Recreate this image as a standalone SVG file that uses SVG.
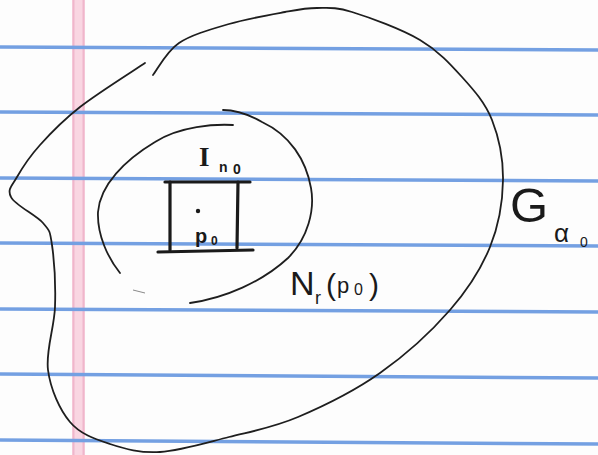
<svg xmlns="http://www.w3.org/2000/svg" width="598" height="455" viewBox="0 0 598 455">
<style>
.rule{stroke:#74a0e2;stroke-width:3.5;fill:none}
.ink{fill:none;stroke:#1e1e1e;stroke-width:1.8;stroke-linecap:round;stroke-linejoin:round}
.thick{fill:none;stroke:#1a1a1a;stroke-width:3.2;stroke-linecap:round}
.hand{font-family:"Liberation Sans","DejaVu Sans",sans-serif;fill:#1a1a1a}
.serif{font-family:"Liberation Serif","DejaVu Serif",serif;fill:#1a1a1a}
</style>
<rect width="598" height="455" fill="#fdfdfd"/>
<g id="paper">
  <rect x="72" y="0" width="13" height="455" fill="#f9d6e2"/>
  <line x1="73.5" y1="0" x2="73.5" y2="455" stroke="#f0b6cb" stroke-width="2"/>
  <line x1="83.5" y1="0" x2="83.5" y2="455" stroke="#f0b6cb" stroke-width="2"/>
  <line class="rule" x1="0" y1="47" x2="598" y2="50"/>
  <line class="rule" x1="0" y1="112" x2="598" y2="115"/>
  <line class="rule" x1="0" y1="178" x2="598" y2="181"/>
  <line class="rule" x1="0" y1="243" x2="598" y2="246"/>
  <line class="rule" x1="0" y1="309" x2="598" y2="312"/>
  <line class="rule" x1="0" y1="374" x2="598" y2="378"/>
  <line class="rule" x1="0" y1="440" x2="598" y2="444"/>
</g>
<g id="outer-region">
  <path class="ink" d="M153,75 C157.3,69.7 166.3,51.5 179,43 C191.7,34.5 211.3,29.2 229,24 C246.7,18.8 270.3,14.7 285,12 C299.7,9.3 305.8,8 317,8 C328.2,8 334.8,6.7 352,12 C369.2,17.3 401.7,29.2 420,40 C438.3,50.8 450,63.7 462,77 C474,90.3 485.2,102.8 492,120 C498.8,137.2 503.3,158.8 503,180 C502.7,201.2 498.8,225.3 490,247 C481.2,268.7 468.3,289 450,310 C431.7,331 405.3,355.2 380,373 C354.7,390.8 323.2,406.3 298,417 C272.8,427.7 252,431.2 229,437 C206,442.8 179.8,450.8 160,452 C140.2,453.2 125,449 110,444 C95,439 80.3,434.3 70,422 C59.7,409.7 50.5,389.2 48,370 C45.5,350.8 54.3,327.8 55,307 C55.7,286.2 54,259 52,245 C50,231 50,231 43,223 C36,215 14.3,204.7 11,197 C7,189.3 12,185.7 17,177 C22,168.3 29.5,156.7 40,145 C50.5,133.3 62.5,120.7 80,107 C97.5,93.3 134.2,70.3 145,63"/>
</g>
<g id="inner-neighborhood">
  <path class="ink" d="M233,125 C215,124 180,126 155,142 C125,160 100,185 98,212 C97,235 108,258 120,273"/>
  <path class="ink" d="M190,303 C225,298 262,282 288,258 C308,238 315,210 311,188 C306,160 290,135 262,122 C248,114 235,110 223,110"/>
  <path d="M133,290 L145,293" stroke="#8a8a8a" stroke-width="1" fill="none"/>
</g>
<g id="square-I">
  <path class="thick" d="M165,182 L250,182"/>
  <path class="thick" d="M170,182 L170,250"/>
  <path class="thick" d="M238,182 L237,248"/>
  <path class="thick" d="M158,252 L253,250"/>
  <circle cx="198" cy="211" r="2.2" fill="#1a1a1a"/>
</g>
<g id="labels">
  <text class="serif" x="199" y="166" font-size="27" font-weight="bold">I</text>
  <text class="hand" x="219" y="172" font-size="14" font-weight="bold">n</text>
  <text class="hand" x="233" y="174" font-size="14" font-weight="bold">0</text>
  <text class="hand" x="195" y="243" font-size="20" font-weight="bold">p</text>
  <text class="hand" x="211" y="245" font-size="12" font-weight="bold">0</text>
  <text class="hand" x="290" y="295" font-size="34">N</text>
  <text class="hand" x="315" y="304" font-size="18">r</text>
  <text class="hand" x="326" y="295" font-size="30">(</text>
  <text class="hand" x="337" y="293" font-size="22">p</text>
  <text class="hand" x="354" y="295" font-size="16">0</text>
  <text class="hand" x="369" y="295" font-size="30">)</text>
  <text class="hand" x="510" y="222" font-size="49">G</text>
  <text class="hand" x="554" y="242" font-size="26">α</text>
  <text class="hand" x="580" y="247" font-size="14">0</text>
</g>
</svg>
